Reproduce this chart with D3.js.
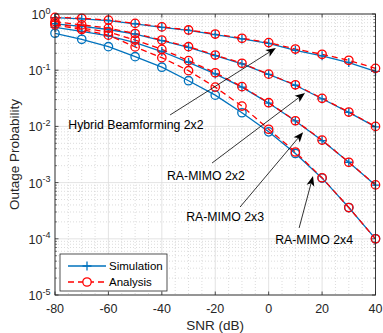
<!DOCTYPE html>
<html>
<head>
<meta charset="utf-8">
<script src="https://cdn.jsdelivr.net/npm/d3@7/dist/d3.min.js"></script>
<style>
  body { margin: 0; background: #fff; }
  svg { font-family: "Liberation Sans", Arial, sans-serif; }
</style>
</head>
<body>
<svg width="383" height="333"></svg>
<script>
// SNR grid (dB) shared by every curve
const snr = [-80, -70, -60, -50, -40, -30, -20, -10, 0, 10, 20, 30, 40]

// outage probability
const hybridSim = [0.86, 0.82, 0.765, 0.67, 0.58, 0.51, 0.43, 0.36, 0.30, 0.226, 0.18, 0.137, 0.095]
const hybridAna = [0.87, 0.84, 0.78, 0.68, 0.59, 0.52, 0.44, 0.37, 0.31, 0.238, 0.192, 0.15, 0.108]
const mimo22Sim = [0.67, 0.60, 0.53, 0.44, 0.335, 0.255, 0.182, 0.13, 0.084, 0.054, 0.031, 0.0178, 0.0098]
const mimo22Ana = [0.73, 0.64, 0.56, 0.45, 0.344, 0.262, 0.186, 0.133, 0.085, 0.055, 0.0316, 0.018, 0.01]
const mimo23Sim = [0.58, 0.49, 0.41, 0.31, 0.215, 0.138, 0.086, 0.05, 0.026, 0.0125, 0.0056, 0.0023, 0.0009]
const mimo23Ana = [0.68, 0.56, 0.48, 0.344, 0.235, 0.148, 0.09, 0.051, 0.0264, 0.0126, 0.0057, 0.0023, 0.00091]
const mimo24Sim = [0.454, 0.355, 0.262, 0.174, 0.113, 0.065, 0.036, 0.0175, 0.008, 0.0033, 0.0012, 0.00036, 0.0001]
const mimo24Ana = [0.64, 0.53, 0.42, 0.26, 0.167, 0.098, 0.05, 0.023, 0.0089, 0.0035, 0.00122, 0.00036, 0.0001]

const xTicks = [-80, -60, -40, -20, 0, 20, 40]
const yExponents = [-5, -4, -3, -2, -1, 0]
const legendLabels = ['Simulation', 'Analysis']

// annotations: label, text anchor [snr, p], arrow tail [snr, p], arrow tip [snr, p]
const noteLabels = ['Hybrid Beamforming 2x2', 'RA-MIMO 2x2', 'RA-MIMO 2x3', 'RA-MIMO 2x4']
const noteText = [[-49.7, 0.0106], [-23.5, 0.00131], [-16.3, 0.000244], [17.0, 0.0000955]]
const noteTail = [[-36.9, 0.016], [-21.2, 0.00223], [-10.7, 0.000368], [11.4, 0.000156]]
const noteTip = [[2.7, 0.248], [13.6, 0.0393], [12.9, 0.0079], [16.6, 0.00131]]

const blue = '#0072BD'
const red = '#FF0000'
const axisColor = '#262626'

const simSeries = [hybridSim, mimo22Sim, mimo23Sim, mimo24Sim]
const anaSeries = [hybridAna, mimo22Ana, mimo23Ana, mimo24Ana]
const simMarker = ['plus', 'plus', 'plus', 'circle']

const dim = { width: 383, height: 333, margin: { top: 14, right: 7.5, bottom: 38, left: 55 } }
const w = dim.width - dim.margin.left - dim.margin.right
const h = dim.height - dim.margin.top - dim.margin.bottom

const xScale = d3.scaleLinear().domain([-80, 40]).range([0, w])
const yScale = d3.scaleLog().domain([1e-5, 1]).range([h, 0])

const svg = d3.select('svg')
const g = svg.append('g')
  .attr('transform', `translate(${dim.margin.left},${dim.margin.top})`)

svg.append('clipPath').attr('id', 'plotClip')
  .append('rect').attr('width', w).attr('height', h)

drawGrid()
drawCurves()
drawAxes()
drawNotes()
drawLegend()
drawTitles()


function drawGrid () {
  const minorY = []
  yExponents.slice(0, -1).forEach((e) => {
    for (let k = 2; k <= 9; k++) minorY.push(k * Math.pow(10, e))
  })
  const minorX = d3.range(-80, 41, 5).filter((v) => v % 20 !== 0)

  const grid = g.append('g').attr('class', 'grid')
  grid.selectAll('.minorY').data(minorY).enter().append('line')
    .attr('x1', 0).attr('x2', w)
    .attr('y1', (d) => yScale(d)).attr('y2', (d) => yScale(d))
    .attr('stroke', '#c4c4c4').attr('stroke-width', 0.6).attr('stroke-dasharray', '1,2')
  grid.selectAll('.minorX').data(minorX).enter().append('line')
    .attr('y1', 0).attr('y2', h)
    .attr('x1', (d) => xScale(d)).attr('x2', (d) => xScale(d))
    .attr('stroke', '#c4c4c4').attr('stroke-width', 0.6).attr('stroke-dasharray', '1,2')
  grid.selectAll('.majorY').data(yExponents).enter().append('line')
    .attr('x1', 0).attr('x2', w)
    .attr('y1', (d) => yScale(Math.pow(10, d))).attr('y2', (d) => yScale(Math.pow(10, d)))
    .attr('stroke', '#dcdcdc').attr('stroke-width', 0.8)
  grid.selectAll('.majorX').data(xTicks).enter().append('line')
    .attr('y1', 0).attr('y2', h)
    .attr('x1', (d) => xScale(d)).attr('x2', (d) => xScale(d))
    .attr('stroke', '#dcdcdc').attr('stroke-width', 0.8)
}


function drawCurves () {
  const line = d3.line()
    .x((d) => xScale(d[0]))
    .y((d) => yScale(d[1]))
  const plot = g.append('g').attr('clip-path', 'url(#plotClip)')

  simSeries.forEach((vals, i) => {
    const pts = snr.map((s, j) => [s, vals[j]])
    plot.append('path').datum(pts)
      .attr('d', line).attr('fill', 'none')
      .attr('stroke', blue).attr('stroke-width', 1.3)
    drawMarkers(g, pts, simMarker[i], blue)
  })

  anaSeries.forEach((vals) => {
    const pts = snr.map((s, j) => [s, vals[j]])
    plot.append('path').datum(pts)
      .attr('d', line).attr('fill', 'none')
      .attr('stroke', red).attr('stroke-width', 1.3)
      .attr('stroke-dasharray', '6,4')
    drawMarkers(g, pts, 'circle', red)
  })
}


function drawMarkers (parent, pts, type, color) {
  const m = parent.append('g')
  if (type === 'circle') {
    m.selectAll('circle').data(pts).enter().append('circle')
      .attr('cx', (d) => xScale(d[0])).attr('cy', (d) => yScale(d[1]))
      .attr('r', 4.2).attr('fill', 'none')
      .attr('stroke', color).attr('stroke-width', 1.3)
  } else {
    m.selectAll('path').data(pts).enter().append('path')
      .attr('d', (d) => plusPath(xScale(d[0]), yScale(d[1]), 4.5))
      .attr('stroke', color).attr('stroke-width', 1.3)
  }
}


function plusPath (x, y, s) {
  return `M${x - s},${y}H${x + s}M${x},${y - s}V${y + s}`
}


function drawAxes () {
  const ax = g.append('g').attr('stroke', axisColor)
  ax.append('rect')
    .attr('width', w).attr('height', h)
    .attr('fill', 'none').attr('stroke-width', 0.9)

  // major ticks point inward, on all four sides
  xTicks.forEach((t) => {
    const x = xScale(t)
    ax.append('path').attr('d', `M${x},${h}v-3.5M${x},0v3.5`).attr('stroke-width', 0.8)
  })
  yExponents.forEach((e) => {
    const y = yScale(Math.pow(10, e))
    ax.append('path').attr('d', `M0,${y}h3.5M${w},${y}h-3.5`).attr('stroke-width', 0.8)
    if (e < 0) {
      for (let k = 2; k <= 9; k++) {
        const ym = yScale(k * Math.pow(10, e))
        ax.append('path').attr('d', `M0,${ym}h2M${w},${ym}h-2`).attr('stroke-width', 0.6)
      }
    }
  })

  g.append('g').selectAll('text').data(xTicks).enter().append('text')
    .attr('x', (d) => xScale(d)).attr('y', h + 17.5)
    .attr('text-anchor', 'middle').attr('font-size', 12.5).attr('fill', axisColor)
    .text((d) => d)

  const yl = g.append('g').selectAll('text').data(yExponents).enter().append('text')
    .attr('x', -4.5).attr('y', (d) => yScale(Math.pow(10, d)) + 5)
    .attr('text-anchor', 'end').attr('font-size', 12.5).attr('fill', axisColor)
  yl.append('tspan').text('10')
  yl.append('tspan').attr('dy', -5.5).attr('font-size', 9).text((d) => d)
}


function drawNotes () {
  const notes = g.append('g')
  noteLabels.forEach((label, i) => {
    const x1 = xScale(noteTail[i][0]), y1 = yScale(noteTail[i][1])
    const x2 = xScale(noteTip[i][0]), y2 = yScale(noteTip[i][1])
    const ang = Math.atan2(y2 - y1, x2 - x1)
    const len = 10, half = 4
    const bx = x2 - len * Math.cos(ang), by = y2 - len * Math.sin(ang)
    const nx = x2 - 0.75 * len * Math.cos(ang), ny = y2 - 0.75 * len * Math.sin(ang)
    notes.append('line')
      .attr('x1', x1).attr('y1', y1).attr('x2', nx).attr('y2', ny)
      .attr('stroke', '#000').attr('stroke-width', 0.8)
    notes.append('path')
      .attr('d', `M${x2},${y2}L${bx - half * Math.sin(ang)},${by + half * Math.cos(ang)}` +
        `L${nx},${ny}L${bx + half * Math.sin(ang)},${by - half * Math.cos(ang)}Z`)
      .attr('fill', '#000')
    notes.append('text')
      .attr('x', xScale(noteText[i][0])).attr('y', yScale(noteText[i][1]) + 4.3)
      .attr('text-anchor', 'middle').attr('font-size', 12.3).attr('fill', '#000')
      .text(label)
  })
}


function drawLegend () {
  const lg = g.append('g').attr('transform', 'translate(5,240)')
  lg.append('rect')
    .attr('width', 107).attr('height', 37)
    .attr('fill', '#fff').attr('stroke', axisColor).attr('stroke-width', 0.8)
  const rows = [
    { color: blue, dash: null, marker: 'plus' },
    { color: red, dash: '6,4', marker: 'circle' }
  ]
  rows.forEach((r, i) => {
    const y = 12 + i * 16
    lg.append('line')
      .attr('x1', 8).attr('x2', 46).attr('y1', y).attr('y2', y)
      .attr('stroke', r.color).attr('stroke-width', 1.3)
      .attr('stroke-dasharray', r.dash)
    if (r.marker === 'plus') {
      lg.append('path').attr('d', plusPath(27, y, 4.5))
        .attr('stroke', r.color).attr('stroke-width', 1.3)
    } else {
      lg.append('circle').attr('cx', 27).attr('cy', y).attr('r', 4.2)
        .attr('fill', '#fff').attr('stroke', r.color).attr('stroke-width', 1.3)
    }
    lg.append('text')
      .attr('x', 49).attr('y', y + 4)
      .attr('font-size', 11.5).attr('fill', '#000')
      .text(legendLabels[i])
  })
}


function drawTitles () {
  svg.append('text')
    .attr('x', dim.margin.left + w / 2).attr('y', 330)
    .attr('text-anchor', 'middle').attr('font-size', 13.5).attr('fill', axisColor)
    .text('SNR (dB)')
  svg.append('text')
    .attr('transform', `translate(19,${dim.margin.top + h / 2}) rotate(-90)`)
    .attr('text-anchor', 'middle').attr('font-size', 13.5).attr('fill', axisColor)
    .text('Outage Probability')
}
</script>
</body>
</html>
